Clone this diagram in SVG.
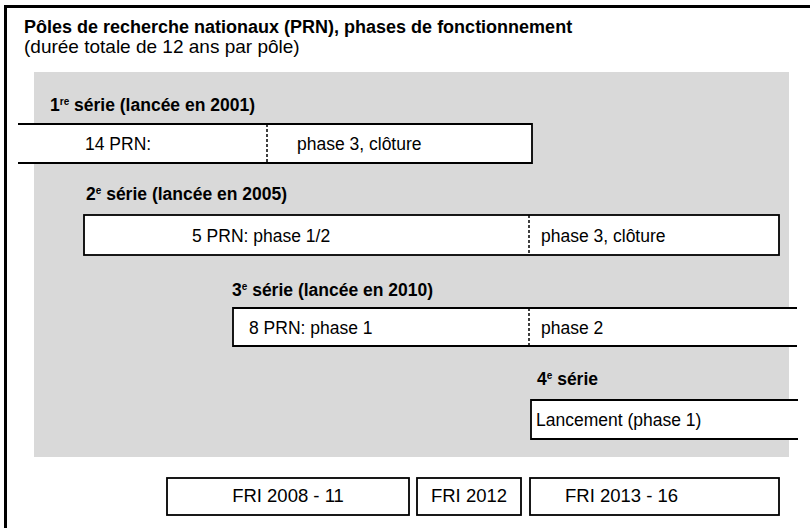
<svg xmlns="http://www.w3.org/2000/svg" width="810" height="528" viewBox="0 0 810 528">
<style>
text{font-family:"Liberation Sans",Arial,sans-serif;fill:#000}
.t{font-size:18px;font-weight:bold}
.s{font-size:19px}
.h{font-size:17.5px;font-weight:bold}
.l{font-size:17.5px}
.f{font-size:18.5px}
.sup{font-size:10px}
.box{fill:#fff;stroke:#000;stroke-width:1.8}
.dash{stroke:#000;stroke-width:1.5;stroke-dasharray:3,2;fill:none}
</style>
<rect width="810" height="528" fill="#fff"/>
<path d="M5.5,528 V6.5 H810" fill="none" stroke="#000" stroke-width="3"/>
<g id="title">
<text class="t" x="24" y="33">Pôles de recherche nationaux (PRN), phases de fonctionnement</text>
<text class="s" x="24" y="53">(durée totale de 12 ans par pôle)</text>
</g>
<rect id="panel" x="34" y="72" width="755" height="385" fill="#d9d9d9"/>
<g id="serie1">
<text class="h" x="50" y="111">1<tspan class="sup" dy="-6">re</tspan><tspan dy="6"> série (lancée en 2001)</tspan></text>
<path class="box" d="M18,124 H532 V163 H18"/>
<line class="dash" x1="267" y1="124" x2="267" y2="163"/>
<text class="l" x="85" y="150">14 PRN:</text>
<text class="l" x="297" y="150">phase 3, clôture</text>
</g>
<g id="serie2">
<text class="h" x="86" y="200">2<tspan class="sup" dy="-6">e</tspan><tspan dy="6"> série (lancée en 2005)</tspan></text>
<rect class="box" x="84" y="215" width="695" height="40"/>
<line class="dash" x1="529" y1="215" x2="529" y2="255"/>
<text class="l" x="192" y="242">5 PRN: phase 1/2</text>
<text class="l" x="541" y="242">phase 3, clôture</text>
</g>
<g id="serie3">
<text class="h" x="232" y="296">3<tspan class="sup" dy="-6">e</tspan><tspan dy="6"> série (lancée en 2010)</tspan></text>
<path class="box" d="M797,308 H233 V346 H797"/>
<line class="dash" x1="529" y1="308" x2="529" y2="346"/>
<text class="l" x="249" y="334">8 PRN: phase 1</text>
<text class="l" x="541" y="334">phase 2</text>
</g>
<g id="serie4">
<text class="h" x="537" y="385">4<tspan class="sup" dy="-6">e</tspan><tspan dy="6"> série</tspan></text>
<path class="box" d="M798,400 H531 V439 H798"/>
<text class="l" x="536" y="426">Lancement (phase 1)</text>
</g>
<g id="fri1">
<rect class="box" x="167" y="478" width="242" height="37"/>
<text class="f" x="288" y="502" text-anchor="middle">FRI 2008 - 11</text>
</g>
<g id="fri2">
<rect class="box" x="417" y="478" width="104" height="37"/>
<text class="f" x="469" y="502" text-anchor="middle">FRI 2012</text>
</g>
<g id="fri3">
<rect class="box" x="530" y="478" width="249" height="37"/>
<text class="f" x="565" y="502">FRI 2013 - 16</text>
</g>
<g id="connectors"/>
</svg>
